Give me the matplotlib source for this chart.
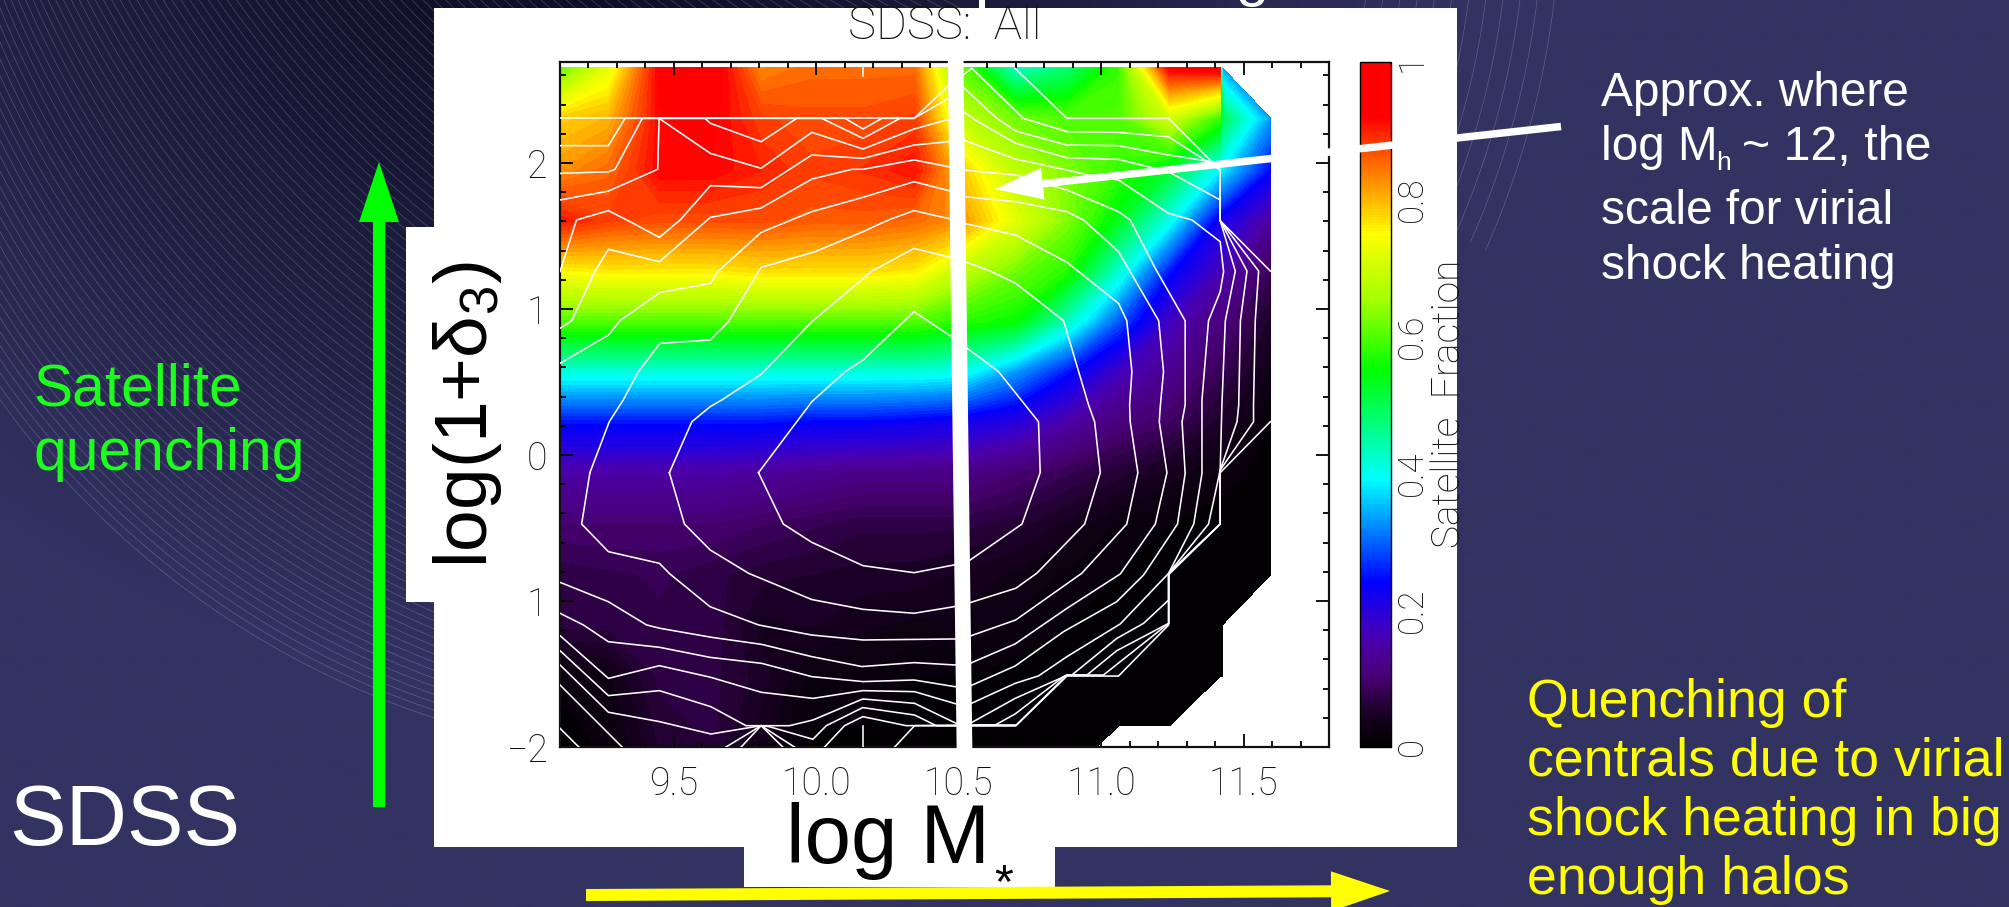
import numpy as np
import matplotlib
matplotlib.use("Agg")
import matplotlib.pyplot as plt
from matplotlib.colors import LinearSegmentedColormap, Normalize
from matplotlib.cm import ScalarMappable
from matplotlib.collections import LineCollection
from matplotlib.patches import Rectangle, Polygon

plt.rcParams['font.family'] = ['Liberation Sans', 'DejaVu Sans']
plt.rcParams['mathtext.fontset'] = 'custom'
plt.rcParams['mathtext.rm'] = 'Liberation Sans'
plt.rcParams['mathtext.it'] = 'Liberation Sans:italic'
plt.rcParams['mathtext.default'] = 'rm'

# ------------------------------------------------------------------ data
x_labels = ['9.5', '10.0', '10.5', '11.0', '11.5']
x_ticks = [9.5, 10.0, 10.5, 11.0, 11.5]
y_ticks = [-2, -1, 0, 1, 2]
y_labels = ['\u22122', '1', '0', '1', '2']
cbar_ticks = [0, 0.2, 0.4, 0.6, 0.8, 1]
cbar_labels = ['0', '0.2', '0.4', '0.6', '0.8', '1']

mass_grid = [9.09, 9.27, 9.45, 9.63, 9.806, 9.985, 10.165, 10.345, 10.52, 10.70,
             10.88, 11.06, 11.24, 11.418, 11.425, 11.595]
density_grid = [2.653, 2.306, 1.95, 1.605, 1.26, 0.913, 0.57, 0.228, -0.12, -0.473,
                -0.82, -1.164, -1.514, -1.856, -2.2]
n = float('nan')
frac_row_0 = [.60, .72, .93, .95, .83, .85, .85, .85, .60, .42, .48, .58, .93, .95, .34, n]
frac_row_1 = [.78, .80, .92, .93, .88, .87, .87, .88, .68, .62, .60, .60, .70, .58, .50, .33]
frac_row_2 = [.82, .85, .92, .92, .90, .88, .89, .91, .78, .68, .63, .58, .52, .38, .38, .24]
frac_row_3 = [.91, .88, .87, .87, .87, .86, .86, .85, .82, .72, .63, .53, .40, .22, .22, .14]
frac_row_4 = [.75, .76, .76, .76, .77, .77, .77, .76, .68, .62, .57, .42, .25, .16, .16, .08]
frac_row_5 = [.60, .60, .60, .60, .60, .60, .60, .60, .57, .55, .43, .29, .17, .11, .11, .05]
frac_row_6 = [.41, .41, .41, .41, .41, .41, .41, .41, .40, .33, .25, .17, .13, .08, .08, .03]
frac_row_7 = [.25, .25, .25, .25, .25, .24, .24, .23, .22, .20, .15, .11, .09, .05, .05, .01]
frac_row_8 = [.15, .15, .15, .15, .14, .13, .12, .12, .12, .10, .08, .06, .04, .02, .02, 0]
frac_row_9 = [.10, .10, .10, .10, .09, .08, .07, .07, .07, .06, .04, .02, .01, 0, 0, 0]
frac_row_10 = [.07, .075, .08, .07, .06, .055, .05, .05, .04, .03, .02, .01, 0, 0, 0, 0]
frac_row_11 = [.07, .07, .075, .075, .04, .045, .035, .03, .03, .02, .01, 0, 0, 0, 0, n]
frac_row_12 = [.02, .03, .07, .07, .05, .02, .02, .01, .01, .005, 0, 0, 0, 0, 0, n]
frac_row_13 = [0, .02, .06, .07, .04, .01, .01, 0, 0, 0, 0, 0, 0, n, n, n]
frac_row_14 = [0, .01, .05, .05, .02, 0, 0, 0, 0, 0, 0, n, n, n, n, n]

contour_1 = [(9.797,-.121),(9.984,.365),(10.101,.571),(10.164,.651),(10.343,.982),(10.47,.817),(10.522,.742),
             (10.64,.571),(10.78,.228),(10.786,-.121),(10.722,-.473),(10.54,-.719),(10.483,-.753),(10.343,-.806),
             (10.164,-.758),(9.984,-.598),(9.884,-.473),(9.797,-.121)]
contour_2 = [(9.484,-.121),(9.563,.228),(9.627,.331),(9.668,.377),(9.806,.553),(9.984,.913),(10.195,1.26),
             (10.343,1.415),(10.47,1.354),(10.522,1.324),(10.616,1.256),(10.70,1.176),(10.868,.92),(10.956,.342),
             (10.977,.228),(10.997,-.121),(10.942,-.473),(10.774,-.81),(10.70,-.913),(10.54,-1.011),(10.483,-1.039),
             (10.343,-1.084),(10.164,-1.057),(9.984,-.99),(9.762,-.81),(9.627,-.65),(9.537,-.473),(9.484,-.121)]
contour_3 = [(9.205,-.121),(9.273,.228),(9.322,.377),(9.375,.571),(9.451,.765),(9.628,.788),(9.691,.913),
             (9.806,1.285),(9.996,1.393),(10.164,1.53),(10.253,1.61),(10.343,1.674),(10.47,1.617),(10.517,1.587),
             (10.70,1.507),(10.88,1.32),(11.061,1.039),(11.09,.92),(11.108,.571),(11.10,.342),(11.102,.228),
             (11.129,-.121),(11.09,-.473),(10.932,-.81),(10.70,-1.13),(10.54,-1.24),(10.485,-1.26),(10.164,-1.267),
             (9.984,-1.233),(9.797,-1.164),(9.627,-1.039),(9.486,-.815),(9.449,-.742),(9.27,-.662),(9.176,-.473),
             (9.205,-.121)]
contour_4 = [(9.10,.628),(9.27,.822),(9.31,.92),(9.451,1.114),(9.628,1.176),(9.656,1.26),(9.806,1.525),
             (9.984,1.667),(10.164,1.765),(10.343,1.872),(10.47,1.808),(10.517,1.77),(10.70,1.735),(10.88,1.667),
             (10.938,1.61),(11.061,1.393),(11.202,.92),(11.219,.571),(11.208,.342),(11.204,.228),(11.231,-.121),
             (11.19,-.473),(11.067,-.815),(10.88,-1.05),(10.698,-1.294),(10.54,-1.427),(10.485,-1.438),
             (10.343,-1.422),(10.16,-1.449),(9.984,-1.381),(9.808,-1.297),(9.633,-1.249),(9.451,-1.187),
             (9.404,-1.164),(9.27,-1.005),(9.10,-.872)]
contour_5 = [(9.10,.868),(9.141,.92),(9.223,1.26),(9.27,1.409),(9.449,1.324),(9.628,1.628),(9.806,1.692),
             (9.984,1.89),(10.125,1.957),(10.164,1.957),(10.343,2.021),(10.464,1.975),(10.517,1.952),(10.70,1.918),
             (10.88,1.815),(11.061,1.667),(11.102,1.61),(11.19,1.279),(11.295,.92),(11.295,.342),(11.284,.228),
             (11.295,-.126),(11.268,-.473),(11.149,-.822),(11.055,-1.004),(10.868,-1.21),(10.698,-1.445),
             (10.54,-1.582),(10.487,-1.587),(10.343,-1.541),(10.164,-1.552),(9.984,-1.518),(9.808,-1.427),
             (9.627,-1.386),(9.449,-1.317),(9.27,-1.279),(9.182,-1.164),(9.10,-1.084)]
contour_6 = [(9.10,1.256),(9.158,1.61),(9.27,1.674),(9.346,1.598),(9.449,1.491),(9.522,1.61),(9.628,1.845),
             (9.806,1.831),(9.984,2.055),(10.164,2.032),(10.343,2.123),(10.464,2.146),(10.517,2.157),(10.70,2.027),
             (10.88,1.952),(10.956,1.918),(11.061,1.884),(11.237,1.655),(11.319,1.61),(11.418,1.461),(11.43,1.256),
             (11.418,1.119),(11.377,.92),(11.354,.377),(11.354,-.126),(11.325,-.473),(11.237,-.81),(11.067,-1.157),
             (10.88,-1.381),(10.78,-1.513),(10.698,-1.564),(10.54,-1.705),(10.491,-1.705),(10.345,-1.621),
             (10.163,-1.614),(9.988,-1.667),(9.806,-1.625),(9.63,-1.523),(9.449,-1.443),(9.27,-1.53),(9.10,-1.237)]
contour_7 = [(9.10,1.747),(9.27,1.808),(9.443,1.957),(9.448,2.306),(9.628,2.066),(9.806,1.964),(9.984,2.21),
             (10.164,2.096),(10.343,2.233),(10.464,2.299),(10.517,2.352),(10.558,2.295),(10.70,2.135),(10.88,2.036),
             (11.061,2.025),(11.237,1.94),(11.418,1.747),(11.418,1.605),(11.471,1.26),(11.436,.92),(11.424,.342),
             (11.418,-.103),(11.377,-.473),(11.237,-.81),(11.237,-.993),(11.149,-1.153),(11.055,-1.256),
             (10.897,-1.507),(10.88,-1.507),(10.856,-1.53),(10.698,-1.667),(10.54,-1.838),(10.491,-1.838),
             (10.345,-1.701),(10.163,-1.671),(9.988,-1.815),(9.906,-1.854),(9.753,-1.854),(9.63,-1.724),
             (9.449,-1.614),(9.27,-1.648),(9.10,-1.34)]
contour_8 = [(9.10,1.929),(9.27,1.94),(9.293,1.957),(9.389,2.306),(9.609,2.306),(9.628,2.272),(9.806,2.146),
             (9.931,2.306),(10.019,2.306),(10.164,2.169),(10.294,2.306),(10.343,2.306),(10.464,2.443),(10.517,2.516),
             (10.634,2.306),(10.70,2.219),(10.88,2.123),(11.061,2.119),(11.237,2.055),(11.389,2.009),(11.418,1.952),
             (11.418,1.605),(11.512,1.26),(11.489,.92),(11.483,.342),(11.477,.228),(11.418,-.103),(11.418,-.473),
             (11.237,-.81),(11.237,-1.153),(11.055,-1.34),(10.95,-1.507),(10.88,-1.507),(10.868,-1.518),
             (10.698,-1.774),(10.628,-1.849),(10.491,-1.854),(10.421,-1.854),(10.345,-1.781),(10.163,-1.73),
             (10.035,-1.854),(9.988,-1.947),(9.835,-1.861),(9.806,-1.854),(9.63,-1.911),(9.449,-1.826),(9.27,-1.762),
             (9.10,-1.438)]
contour_9a = [(9.10,2.119),(9.27,2.119),(9.328,2.306),(10.101,2.306),(10.164,2.233),(10.23,2.306),(10.343,2.306),
              (10.464,2.53),(10.546,2.648),(10.727,2.306),(10.88,2.215),(11.061,2.21),(11.237,2.18),(11.418,1.952),
              (11.418,1.605),(11.553,1.26),(11.541,.92),(11.535,.342),(11.535,.228),(11.418,-.103),(11.418,-.473),
              (11.237,-.81),(11.237,-1.153),(11.008,-1.507),(10.88,-1.507),(10.702,-1.849),(10.54,-1.849),
              (10.316,-1.854),(10.163,-1.792),(10.099,-1.854),(10.029,-2.0)]
contour_9b = [(9.923,-2.0),(9.806,-1.854),(9.683,-2.0)]
contour_9c = [(9.318,-2.0),(9.10,-1.575)]
contour_10a = [(10.698,2.648),(10.88,2.306),(11.237,2.306),(11.418,1.952),(11.418,1.605),(11.594,1.26)]
contour_10b = [(11.594,.228),(11.418,-.121),(11.418,-.473),(11.237,-.82),(11.237,-1.164),(11.061,-1.514),
               (10.88,-1.514),(10.70,-1.856),(10.54,-1.856),(10.345,-1.854),(10.275,-2.0)]
contour_10c = [(9.10,2.306),(10.343,2.306)]
contour_10d = [(10.163,-1.854),(10.163,-2.0)]
contour_10e = [(9.882,-2.0),(9.806,-1.854),(9.736,-2.0)]
contour_10f = [(9.166,-2.0),(9.10,-1.872)]
contour_10g = [(10.164,2.653),(10.164,2.598)]

contours = [contour_1, contour_2, contour_3, contour_4, contour_5, contour_6, contour_7, contour_8,
            contour_9a, contour_9b, contour_9c, contour_10a, contour_10b, contour_10c, contour_10d,
            contour_10e, contour_10f, contour_10g]
fractions = [frac_row_0, frac_row_1, frac_row_2, frac_row_3, frac_row_4, frac_row_5, frac_row_6, frac_row_7,
             frac_row_8, frac_row_9, frac_row_10, frac_row_11, frac_row_12, frac_row_13, frac_row_14]

# ------------------------------------------------------------------ figure
W, H = 2009, 907
fig = plt.figure(figsize=(W / 100, H / 100), dpi=100)

bg = fig.add_axes([0, 0, 1, 1], zorder=0)
bg.set_xlim(0, W); bg.set_ylim(H, 0); bg.axis('off')
yy, xx = np.mgrid[0:H:2, 0:W:2]
base = np.array([0x33, 0x33, 0x63]) / 255
dark = np.array([0x0c, 0x0c, 0x22]) / 255
d = np.hypot((xx - 560) / 1.15, yy + 120)
t = np.clip(d / 800, 0, 1)[..., None] ** 1.3
bg.imshow(dark + (base - dark) * t, extent=[0, W, H, 0], aspect='auto', interpolation='bilinear')
bg.set_xlim(0, W); bg.set_ylim(H, 0)

theta = np.linspace(0, 2 * np.pi, 1500)
segs = []
for k in range(0, 112):
    cx, cy, r = 700 + 8 * k, -100 - 10 * k, 860 + 4.6 * k
    th = theta[(theta > np.pi / 2 - 0.1) & (theta < 1.15 * np.pi)]
    px, py = cx + r * np.cos(th), cy + r * np.sin(th)
    keep = px < 1000
    segs.append(np.c_[px[keep], py[keep]])
for k in range(0, 12):
    r = 860 - 17 * k
    th = theta[(theta < 0.42)]
    segs.append(np.c_[700 + r * np.cos(th), -100 + r * np.sin(th)])
bg.add_collection(LineCollection(segs, colors='white', linewidths=0.5, alpha=0.22))

for (px, py, pw, ph) in [(434, 8, 1023, 839), (406, 227, 30, 375), (744, 840, 311, 47), (979, 0, 6, 9)]:
    bg.add_patch(Rectangle((px, py), pw, ph, fc='white', ec='none', zorder=3))

# main panel
ax = fig.add_axes([560 / W, 1 - 747 / H, 769 / W, 685 / H], zorder=2)
ax.patch.set_facecolor('white')
cols = [(0, '#000000'), (.05, '#1c0028'), (.10, '#480070'), (.15, '#4c00a8'), (.18, '#3800c8'),
        (.24, '#0000ff'), (.32, '#0088ff'), (.39, '#00ffff'), (.45, '#00ffa0'), (.55, '#00ff00'),
        (.65, '#a0ff00'), (.75, '#ffff00'), (.82, '#ff9800'), (.87, '#ff5000'), (.92, '#ff0000'), (1, '#ff0000')]
cmap = LinearSegmentedColormap.from_list('satfrac', cols, N=256)
norm = Normalize(0, 1)
Z = np.ma.masked_invalid(np.array(fractions, float))
ax.contourf(mass_grid, density_grid, Z, levels=np.linspace(-0.001, 1.001, 90), cmap=cmap, norm=norm,
            antialiased=False)
for c in contours:
    ax.plot([p[0] for p in c], [p[1] for p in c], color='white', lw=1.15, solid_joinstyle='miter', zorder=3)
ax.set_xlim(9.1, 11.8)
ax.set_ylim(-2, 2.692)
tick_font = dict(family=['Roboto', 'DejaVu Sans'], fontweight='light', fontsize=27, color='#111111')
ax.set_xticks(x_ticks); ax.set_xticklabels(x_labels, **tick_font)
ax.set_yticks(y_ticks); ax.set_yticklabels(y_labels, **tick_font)
ax.set_xticks(np.arange(9.1, 11.8, 0.1), minor=True)
ax.set_yticks(np.arange(-2, 2.7, 0.2), minor=True)
ax.tick_params(which='major', direction='in', length=9.5, width=1.3, top=True, right=True, pad=13)
ax.tick_params(which='minor', direction='in', length=4.5, width=1.3, top=True, right=True)
ax.tick_params(axis='y', which='major', pad=9)
for s in ax.spines.values():
    s.set_linewidth(1.6)
    s.set_color('#111111')

# colour bar
cax = fig.add_axes([1360 / W, 1 - 747 / H, 31 / W, 685 / H], zorder=2)
cb = fig.colorbar(ScalarMappable(norm=norm, cmap=cmap), cax=cax, ticks=cbar_ticks)
cb.outline.set_linewidth(1.0)
cb_font = dict(tick_font, fontsize=25)
cb.ax.set_yticklabels(cbar_labels, rotation=90, va='center', **cb_font)
cb.ax.tick_params(length=0, pad=3)

# overlay
ov = fig.add_axes([0, 0, 1, 1], zorder=5)
ov.set_xlim(0, W); ov.set_ylim(H, 0); ov.axis('off'); ov.patch.set_alpha(0)


def arrow(x0, y0, x1, y1, thick, head_w, head_l, color):
    v = np.array([x1 - x0, y1 - y0], float)
    u = v / np.hypot(*v)
    m = np.array([-u[1], u[0]])
    a, b = np.array([x0, y0]), np.array([x1, y1])
    base_pt = b - u * head_l
    pts = [a + m * thick / 2, base_pt + m * thick / 2, base_pt + m * head_w, b,
           base_pt - m * head_w, base_pt - m * thick / 2, a - m * thick / 2]
    ov.add_patch(Polygon(pts, closed=True, fc=color, ec='none', zorder=6))


ov.plot([955.5, 964.5], [50, 749], color='white', lw=11.3, solid_capstyle='butt', zorder=5)
arrow(1561, 126.5, 995, 189, 7.5, 16, 48, 'white')
arrow(379, 807, 379, 162, 12, 20, 60, '#00ff00')
arrow(586, 895, 1390, 891, 12, 20, 59, '#ffff00')

ov.text(945, 26, 'SDSS:  All', ha='center', va='center', color='#111111', family=['Roboto', 'DejaVu Sans'],
        fontweight='light', fontsize=34)
ov.text(1449, 404, 'Satellite  Fraction', rotation=90, ha='center', va='center', color='#111111',
        family=['Roboto', 'DejaVu Sans'], fontweight='light', fontsize=28)
ov.text(467, 415, r'$\mathrm{log(1{+}\delta_3)}$', rotation=90, ha='center', va='center', color='black', fontsize=54)
ov.text(786, 863, 'log M', ha='left', va='baseline', color='black', fontsize=60)
ov.text(994, 897, '*', ha='left', va='baseline', color='black', fontsize=35)
ov.text(33, 406, 'Satellite', color='#1cff1c', fontsize=42.3, va='baseline')
ov.text(33, 470, 'quenching', color='#1cff1c', fontsize=42.3, va='baseline')
ov.text(9, 845, 'SDSS', color='white', fontsize=61, va='baseline')
ov.text(1601, 106, 'Approx. where', color='white', fontsize=34.4, va='baseline')
ov.text(1601, 160, 'log M', color='white', fontsize=34.4, va='baseline')
ov.text(1716, 170, 'h', color='white', fontsize=19, va='baseline')
ov.text(1742, 160, '~ 12, the', color='white', fontsize=34.8, va='baseline')
ov.text(1601, 224, 'scale for virial', color='white', fontsize=34.4, va='baseline')
ov.text(1601, 279, 'shock heating', color='white', fontsize=34.4, va='baseline')
ov.text(1236, -5, 'g', color='white', fontsize=43, va='baseline', clip_on=False)
for txt, yb in [('Quenching of', 717), ('centrals due to virial', 776), ('shock heating in big', 835),
                ('enough halos', 894)]:
    ov.text(1527, yb, txt, color='#ffff00', fontsize=38.6, va='baseline')

fig.savefig('out.png', dpi=100)
